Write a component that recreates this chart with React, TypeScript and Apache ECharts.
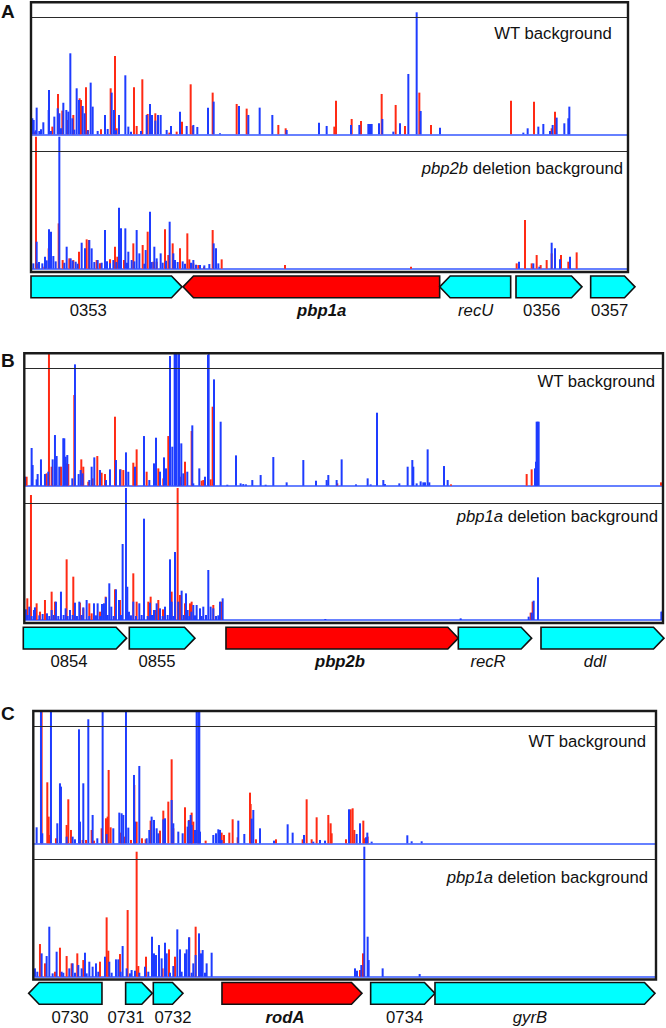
import React, { useEffect, useRef } from "react";
import * as echarts from "echarts";

// ---------- data (position in genome units, height in read-count units; CAP = saturation line) ----------
const CAP = 351;
const YMAX = 396;

const A_wt_red = [[11,8],[64,23],[81,121],[94,71],[110,43],[127,58],[146,108],[150,103],[165,141],[171,13],[210,15],[239,138],[252,235],[257,18],[309,141],[317,25],[334,165],[350,61],[373,63],[415,5],[437,8],[453,38],[479,150],[485,25],[545,125],[617,91],[647,77],[742,28],[764,18],[910,23],[915,101],[962,46],[990,40],[1052,121],[1094,88],[1122,25],[1165,125],[1200,28],[1440,101],[1509,98],[1562,18],[1572,68]];
const A_wt_blue = [[4,48],[8,43],[14,12],[17,80],[25,10],[30,15],[37,36],[53,73],[54,133],[60,10],[70,53],[80,78],[85,63],[90,18],[97,95],[106,73],[112,68],[118,243],[124,48],[130,14],[137,138],[144,103],[155,85],[161,63],[170,12],[179,155],[185,83],[200,10],[222,58],[230,16],[242,125],[249,73],[255,12],[264,58],[283,177],[292,23],[300,8],[330,10],[347,58],[357,91],[363,58],[373,41],[381,58],[389,58],[407,13],[420,25],[447,68],[467,25],[487,28],[499,22],[531,80],[548,98],[567,3],[624,85],[652,58],[686,80],[724,58],[767,13],[864,35],[887,25],[960,28],[985,28],[1012,31],[1017,31],[1022,31],[1044,33],[1054,46],[1087,8],[1107,33],[1132,181],[1157,366],[1169,70],[1227,20],[1477,5],[1490,18],[1522,23],[1537,31],[1557,10],[1565,28],[1577,50],[1600,33],[1612,48],[1615,83]];
const A_del_red = [[15,400],[19,16],[40,6],[53,61],[83,136],[95,26],[115,31],[127,26],[144,51],[167,88],[174,86],[197,26],[207,16],[237,28],[252,66],[259,36],[279,26],[307,76],[335,71],[350,111],[367,21],[377,21],[402,118],[412,41],[425,76],[447,61],[469,106],[475,28],[487,16],[502,11],[519,6],[545,116],[572,28],[762,11],[1140,6],[1457,16],[1482,146],[1502,16],[1517,41],[1529,11],[1547,26],[1562,46],[1590,41],[1612,21],[1637,49]];
const A_del_blue = [[7,16],[17,81],[24,20],[34,16],[42,36],[47,25],[54,118],[60,111],[67,38],[74,22],[85,400],[100,18],[107,66],[119,31],[125,24],[134,21],[140,15],[152,78],[162,61],[175,86],[182,61],[190,20],[200,26],[212,18],[222,116],[228,22],[237,16],[247,26],[256,20],[264,183],[270,121],[283,121],[288,18],[292,51],[302,26],[310,22],[317,116],[325,46],[340,15],[344,56],[357,171],[362,20],[370,66],[377,31],[389,46],[395,18],[405,24],[416,141],[427,46],[432,26],[440,20],[455,22],[462,15],[480,18],[487,26],[495,12],[507,11],[520,10],[535,14],[548,76],[555,61],[562,16],[1464,21],[1507,16],[1525,6],[1562,78],[1572,61],[1587,28],[1617,36]];

const B_wt_red = [[7,27],[67,37],[74,450],[82,57],[92,57],[110,57],[127,67],[132,65],[150,272],[171,79],[177,57],[192,12],[205,22],[219,89],[232,39],[242,35],[272,207],[289,49],[297,47],[327,69],[337,109],[367,42],[402,52],[417,22],[432,149],[467,27],[482,72],[502,164],[532,15],[537,17],[559,19],[565,237],[939,7],[1280,4],[1507,35],[1522,49],[1910,10]];
const B_wt_blue = [[2,27],[22,113],[25,62],[37,19],[40,35],[50,79],[62,35],[72,42],[85,79],[92,152],[97,89],[105,57],[117,142],[120,142],[124,87],[129,92],[144,22],[152,364],[163,35],[169,47],[175,37],[195,17],[202,57],[210,85],[227,47],[245,17],[257,49],[275,77],[287,49],[305,100],[312,42],[332,57],[359,149],[375,17],[389,67],[395,144],[407,42],[419,85],[425,52],[437,389],[444,117],[451,450],[455,450],[462,450],[464,450],[471,127],[477,37],[489,42],[504,181],[507,7],[525,52],[542,27],[551,392],[553,450],[569,319],[589,192],[609,3],[635,91],[649,7],[657,5],[665,4],[684,17],[709,32],[724,3],[747,86],[787,10],[837,77],[875,15],[907,17],[912,32],[937,17],[952,79],[995,4],[1030,22],[1039,4],[1058,219],[1077,17],[1082,5],[1125,7],[1150,57],[1164,77],[1167,57],[1177,7],[1189,13],[1197,10],[1202,10],[1210,109],[1215,10],[1259,59],[1270,17],[1532,52],[1535,72],[1537,192],[1540,192],[1543,192]];
const B_del_red = [[9,65],[20,375],[33,22],[37,50],[47,25],[62,60],[82,85],[92,55],[127,182],[147,130],[167,52],[177,35],[195,50],[202,20],[227,25],[244,70],[272,92],[287,60],[307,70],[327,140],[337,55],[372,55],[379,70],[392,30],[402,60],[416,32],[442,85],[460,420],[467,75],[482,50],[497,50],[502,55],[527,25],[567,45],[591,55],[1519,22],[1525,55]];
const B_del_blue = [[5,32],[10,15],[15,40],[22,12],[29,30],[32,38],[45,14],[55,18],[68,20],[75,12],[82,30],[88,15],[95,55],[102,12],[110,85],[118,15],[124,35],[130,12],[137,30],[145,15],[152,52],[158,12],[165,55],[172,15],[177,38],[187,60],[195,12],[209,50],[215,14],[220,50],[228,12],[233,48],[239,50],[245,68],[250,15],[255,110],[261,40],[268,12],[275,92],[284,60],[290,15],[295,228],[305,420],[309,100],[314,25],[320,14],[327,55],[335,12],[345,50],[352,15],[359,304],[370,12],[377,52],[383,15],[389,30],[397,50],[407,35],[415,12],[422,40],[430,15],[437,182],[442,55],[447,12],[452,204],[462,55],[472,88],[478,15],[485,80],[490,30],[495,12],[501,25],[507,45],[512,14],[517,45],[527,35],[532,12],[537,40],[545,15],[552,150],[559,40],[567,35],[575,12],[582,14],[587,55],[595,65],[903,3],[1309,5],[1513,10],[1522,22],[1528,58],[1541,128],[1911,25],[1915,28]];

const C_wt_red = [[25,450],[42,183],[46,80],[50,25],[68,15],[100,55],[105,132],[113,40],[138,35],[148,10],[158,10],[175,40],[182,8],[205,45],[218,75],[223,80],[226,220],[232,48],[263,32],[273,20],[293,10],[303,175],[310,65],[326,15],[337,12],[352,68],[380,38],[390,98],[405,125],[415,252],[420,45],[455,108],[467,70],[475,92],[480,65],[495,40],[517,8],[565,32],[572,25],[588,32],[598,72],[613,18],[650,152],[652,118],[668,12],[728,12],[808,12],[820,132],[835,12],[850,78],[885,85],[892,60],[895,30],[938,12],[952,102],[958,105],[963,40],[990,68],[993,15],[1003,20]];
const C_wt_blue = [[10,48],[23,450],[27,30],[53,450],[72,60],[80,180],[83,170],[100,20],[118,20],[125,12],[137,342],[140,65],[150,180],[165,372],[178,85],[192,15],[208,450],[220,28],[240,45],[258,92],[265,90],[270,85],[278,450],[285,47],[302,205],[305,65],[318,232],[340,15],[348,40],[355,80],[362,70],[370,45],[375,30],[390,72],[395,75],[415,130],[420,60],[435,35],[448,30],[463,50],[466,68],[472,85],[475,55],[485,40],[490,450],[495,450],[498,450],[500,35],[540,25],[548,30],[555,42],[560,40],[565,10],[615,68],[633,28],[655,74],[660,100],[680,45],[722,8],[763,57],[778,32],[812,25],[840,5],[860,10],[875,8],[947,102],[970,28],[980,60],[998,18],[1002,32],[1015,5],[1122,24],[1135,6],[1165,6]];
const C_del_red = [[20,98],[35,40],[65,15],[80,87],[100,62],[115,40],[132,70],[150,50],[200,45],[220,178],[225,78],[260,68],[283,200],[310,375],[315,32],[338,60],[388,25],[407,82],[425,60],[468,118],[487,150],[498,80],[980,20],[989,70]];
const C_del_blue = [[5,25],[12,15],[25,70],[40,62],[48,150],[58,10],[70,75],[85,15],[90,12],[108,25],[118,40],[125,12],[135,35],[145,25],[155,72],[160,10],[168,45],[178,30],[188,40],[195,15],[215,60],[228,45],[235,12],[248,52],[255,52],[262,15],[268,92],[280,25],[290,10],[295,20],[305,18],[318,12],[335,30],[345,15],[356,120],[362,70],[368,65],[377,95],[385,55],[395,102],[400,70],[410,12],[420,32],[432,142],[440,82],[445,15],[455,70],[460,82],[467,118],[475,12],[480,40],[487,65],[497,130],[503,70],[508,80],[515,12],[520,40],[535,72],[965,25],[971,18],[984,35],[993,390],[1003,120],[1006,50],[1048,25],[1159,8]];

const genesA = [
  { name: "0353", start: 0, end: 453, strand: 1, labelAt: 172 },
  { name: "pbp1a", start: 456, end: 1226, strand: -1, labelAt: 872, target: true },
  { name: "recU", start: 1226, end: 1439, strand: -1, labelAt: 1334, italic: true },
  { name: "0356", start: 1455, end: 1653, strand: 1, labelAt: 1532 },
  { name: "0357", start: 1679, end: 1812, strand: 1, labelAt: 1736 },
];
const genesB = [
  { name: "0854", start: -3, end: 307, strand: 1, labelAt: 134 },
  { name: "0855", start: 315, end: 512, strand: 1, labelAt: 398 },
  { name: "pbp2b", start: 605, end: 1302, strand: 1, labelAt: 947, target: true },
  { name: "recR", start: 1302, end: 1522, strand: 1, labelAt: 1391, italic: true },
  { name: "ddl", start: 1550, end: 1919, strand: 1, labelAt: 1712, italic: true },
];
const genesC = [
  { name: "0730", start: -14, end: 206, strand: -1, labelAt: 110 },
  { name: "0731", start: 277, end: 357, strand: 1, labelAt: 278 },
  { name: "0732", start: 360, end: 449, strand: 1, labelAt: 419 },
  { name: "rodA", start: 566, end: 986, strand: 1, labelAt: 755, target: true },
  { name: "0734", start: 1012, end: 1205, strand: 1, labelAt: 1114 },
  { name: "gyrB", start: 1205, end: 1865, strand: 1, labelAt: 1490, italic: true },
];

// ---------- layout ----------
const FONT = '"Liberation Sans", Arial, Helvetica, sans-serif';
const RED = "#ff2a14";
const BLUE = "#1e3cff";
const TRACK_H = 132;
const GENE_H = 21.7;
const TIP = 10.5;
const BAR_W = 2;

const panels = [
  { letter: "A", letterY: 11, left: 31, width: 597, span: 1791, wtTop: 2.3, delTop: 136.7, boxTop: 2.3, boxBottom: 272, geneTop: 276,
    wtLabel: [611.7, 33.3], delLabel: [623, 168], delName: "pbp2b",
    wt: [A_wt_red, A_wt_blue], del: [A_del_red, A_del_blue], genes: genesA },
  { letter: "B", letterY: 360, left: 24.3, width: 638.7, span: 1916, wtTop: 353.7, delTop: 488, boxTop: 353.3, boxBottom: 623, geneTop: 627.3,
    wtLabel: [655, 381.7], delLabel: [658, 516], delName: "pbp1a",
    wt: [B_wt_red, B_wt_blue], del: [B_del_red, B_del_blue], genes: genesB },
  { letter: "C", letterY: 713.5, left: 33.3, width: 622.7, span: 1868, wtTop: 711.3, delTop: 844.7, boxTop: 711, boxBottom: 979.5, geneTop: 982.5,
    wtLabel: [646, 741.7], delLabel: [648, 877.7], delName: "pbp1a",
    wt: [C_wt_red, C_wt_blue], del: [C_del_red, C_del_blue], genes: genesC },
];

function buildOption() {
  const grid: any[] = [];
  const xAxis: any[] = [];
  const yAxis: any[] = [];
  const series: any[] = [];
  const graphic: any[] = [];

  const addTrack = (p: any, top: number, red: number[][], blue: number[][]) => {
    const gi = grid.length;
    grid.push({ left: p.left, top, width: p.width, height: TRACK_H, containLabel: false });
    xAxis.push({
      gridIndex: gi, type: "value", min: 0, max: p.span,
      axisLine: { show: true, onZero: false, lineStyle: { color: "#3557ff", width: 1.5 } },
      axisTick: { show: false }, axisLabel: { show: false }, splitLine: { show: false },
    });
    yAxis.push({ gridIndex: gi, type: "value", min: 0, max: YMAX, show: false, splitLine: { show: false } });
    series.push({
      type: "bar", xAxisIndex: gi, yAxisIndex: gi, data: red, barWidth: BAR_W, barGap: "-100%",
      itemStyle: { color: RED }, silent: true, clip: true,
    });
    series.push({
      type: "bar", xAxisIndex: gi, yAxisIndex: gi, data: blue, barWidth: BAR_W, barGap: "-100%",
      itemStyle: { color: BLUE }, silent: true, clip: true,
      markLine: {
        silent: true, symbol: "none", label: { show: false },
        lineStyle: { color: "#2a2a2a", width: 1, type: "solid" },
        data: [{ yAxis: CAP }],
      },
    });
  };

  const addGenes = (p: any) => {
    const gi = grid.length;
    const genes = p.genes;
    grid.push({ left: p.left, top: p.geneTop, width: p.width, height: GENE_H, containLabel: false });
    xAxis.push({ gridIndex: gi, type: "value", min: 0, max: p.span, show: false });
    yAxis.push({ gridIndex: gi, type: "value", min: 0, max: 1, show: false });
    series.push({
      type: "custom", xAxisIndex: gi, yAxisIndex: gi, silent: true, clip: false,
      data: genes.map((g: any) => [g.start, g.end, g.strand, g.labelAt]),
      renderItem: (params: any, api: any) => {
        const g = genes[params.dataIndex];
        const x0 = api.coord([api.value(0), 0])[0];
        const x1 = api.coord([api.value(1), 0])[0];
        const strand = api.value(2);
        const lx = api.coord([api.value(3), 0])[0];
        const cs = params.coordSys;
        const yT = cs.y, yB = cs.y + cs.height, yM = (yT + yB) / 2;
        const tip = Math.min(TIP, (x1 - x0) / 2);
        const points = strand > 0
          ? [[x0, yT], [x1 - tip, yT], [x1, yM], [x1 - tip, yB], [x0, yB]]
          : [[x0, yM], [x0 + tip, yT], [x1, yT], [x1, yB], [x0 + tip, yB]];
        return {
          type: "group",
          children: [
            {
              type: "polygon", shape: { points },
              style: { fill: g.target ? "#ff0000" : "#00ffff", stroke: "#111", lineWidth: 1.6, lineJoin: "miter" },
            },
            {
              type: "text", x: lx, y: yB + 12.8,
              style: {
                text: g.name, fill: "#111", fontFamily: FONT, fontSize: 16.7,
                fontWeight: g.target ? "bold" : "normal",
                fontStyle: g.target || g.italic ? "italic" : "normal",
                align: "center", verticalAlign: "middle",
              },
            },
          ],
        };
      },
    });
  };

  panels.forEach((p) => {
    addTrack(p, p.wtTop, p.wt[0], p.wt[1]);
    addTrack(p, p.delTop, p.del[0], p.del[1]);
    addGenes(p);

    graphic.push({
      type: "rect", z: 100, silent: true,
      shape: { x: p.left, y: p.boxTop, width: p.width, height: p.boxBottom - p.boxTop },
      style: { fill: "none", stroke: "#1a1a1a", lineWidth: 2.4 },
    });
    graphic.push({
      type: "text", z: 100, silent: true, x: 1, y: p.letterY,
      style: { text: p.letter, fill: "#111", fontFamily: FONT, fontSize: 19, fontWeight: "bold", align: "left", verticalAlign: "middle" },
    });
    graphic.push({
      type: "text", z: 100, silent: true, x: p.wtLabel[0], y: p.wtLabel[1],
      style: { text: "WT background", fill: "#111", fontFamily: FONT, fontSize: 16.7, align: "right", verticalAlign: "middle" },
    });
    graphic.push({
      type: "text", z: 100, silent: true, x: p.delLabel[0], y: p.delLabel[1],
      style: {
        text: "{i|" + p.delName + "} deletion background",
        fill: "#111", fontFamily: FONT, fontSize: 16.7, align: "right", verticalAlign: "middle",
        rich: { i: { fontStyle: "italic", fontFamily: FONT, fontSize: 16.7, fill: "#111" } },
      },
    });
  });

  return { animation: false, backgroundColor: "#ffffff", grid, xAxis, yAxis, series, graphic };
}

export default function App() {
  const ref = useRef<HTMLDivElement>(null);
  useEffect(() => {
    if (!ref.current) return;
    const chart = echarts.init(ref.current, null, { renderer: "svg" });
    chart.setOption(buildOption() as any);
    return () => chart.dispose();
  }, []);
  return (
    <div
      ref={ref}
      style={{ position: "absolute", left: 0, top: 0, width: 666, height: 1028, background: "#fff" }}
    />
  );
}
